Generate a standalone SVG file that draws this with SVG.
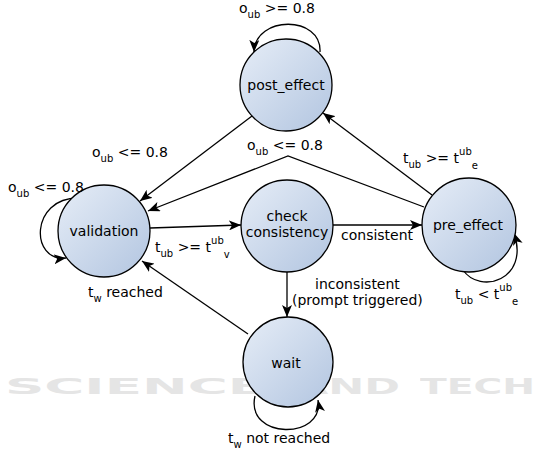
<svg xmlns="http://www.w3.org/2000/svg" width="545" height="454" viewBox="0 0 545 454">
<defs>
<linearGradient id="g" x1="0" y1="0" x2="1" y2="1">
<stop offset="0" stop-color="#e6edf7"/>
<stop offset="1" stop-color="#b2c5e0"/>
</linearGradient>
<marker id="arr" markerUnits="userSpaceOnUse" markerWidth="13" markerHeight="10" refX="12" refY="5" orient="auto">
<path d="M0,0 L12,5 L0,10 L3,5 Z" fill="#000"/>
</marker>
</defs>
<style>
text{font-family:"DejaVu Sans","Liberation Sans",sans-serif;font-size:14px;fill:#000}
.s{font-size:10px}
.node{fill:url(#g);stroke:#000;stroke-width:1.3}
.e{fill:none;stroke:#000;stroke-width:1.3;marker-end:url(#arr)}
.wm{font-family:"DejaVu Sans",sans-serif;font-size:22px;font-weight:bold;fill:#d4d4d4;opacity:0.6}
</style>
<g id="watermark">
<text class="wm" x="5" y="394" textLength="260" lengthAdjust="spacingAndGlyphs">SCIENCE</text>
<text class="wm" x="295" y="394" textLength="105" lengthAdjust="spacingAndGlyphs">AND</text>
<text class="wm" x="420" y="394" textLength="115" lengthAdjust="spacingAndGlyphs">TECH</text>
</g>
<g id="connectors">
<path class="e" d="M320 52 C322 15 255 15 254 52"/>
<path class="e" d="M78 198 C30 198 30 262 66 258"/>
<path class="e" d="M463 270 C480 295 530 280 514 233"/>
<path class="e" d="M255 396 C245 440 325 440 318 400"/>
<path class="e" d="M252 116 L140 201"/>
<path class="e" d="M424 207 L288 156 L148 211"/>
<path class="e" d="M432 195 L323 113"/>
<path class="e" d="M150 228 L241 225"/>
<path class="e" d="M333 225 L422 225"/>
<path class="e" d="M287 272 L287 317"/>
<path class="e" d="M248 334 L142 261"/>
</g>
<g id="post_effect">
<circle class="node" cx="286" cy="85" r="46"/>
<text x="286" y="90" text-anchor="middle">post_effect</text>
</g>
<g id="validation">
<circle class="node" cx="104" cy="231" r="46"/>
<text x="104" y="236" text-anchor="middle">validation</text>
</g>
<g id="check_consistency">
<circle class="node" cx="287" cy="226" r="46"/>
<text x="287" y="221" text-anchor="middle">check</text>
<text x="287" y="237" text-anchor="middle">consistency</text>
</g>
<g id="pre_effect">
<circle class="node" cx="469" cy="225" r="47"/>
<text x="468" y="230" text-anchor="middle">pre_effect</text>
</g>
<g id="wait">
<circle class="node" cx="288" cy="362" r="45"/>
<text x="286" y="368" text-anchor="middle">wait</text>
</g>
<g id="labels">
<text x="239" y="13">o<tspan class="s" dy="5">ub</tspan><tspan dy="-5"> &gt;= 0.8</tspan></text>
<text x="92" y="157">o<tspan class="s" dy="5">ub</tspan><tspan dy="-5"> &lt;= 0.8</tspan></text>
<text x="247" y="150">o<tspan class="s" dy="5">ub</tspan><tspan dy="-5"> &lt;= 0.8</tspan></text>
<text x="8" y="192">o<tspan class="s" dy="5">ub</tspan><tspan dy="-5"> &lt;= 0.8</tspan></text>
<text x="155" y="252">t<tspan class="s" dy="5">ub</tspan><tspan dy="-5"> &gt;= t</tspan><tspan class="s" dy="-8">ub</tspan><tspan class="s" dy="14">v</tspan></text>
<text x="403" y="163">t<tspan class="s" dy="5">ub</tspan><tspan dy="-5"> &gt;= t</tspan><tspan class="s" dy="-8">ub</tspan><tspan class="s" dy="14">e</tspan></text>
<text x="341" y="240">consistent</text>
<text x="315" y="289">inconsistent</text>
<text x="292" y="305">(prompt triggered)</text>
<text x="455" y="299">t<tspan class="s" dy="5">ub</tspan><tspan dy="-5"> &lt; t</tspan><tspan class="s" dy="-8">ub</tspan><tspan class="s" dy="14">e</tspan></text>
<text x="88" y="297">t<tspan class="s" dy="5">w</tspan><tspan dy="-5"> reached</tspan></text>
<text x="228" y="443">t<tspan class="s" dy="5">w</tspan><tspan dy="-5"> not reached</tspan></text>
</g>
</svg>
